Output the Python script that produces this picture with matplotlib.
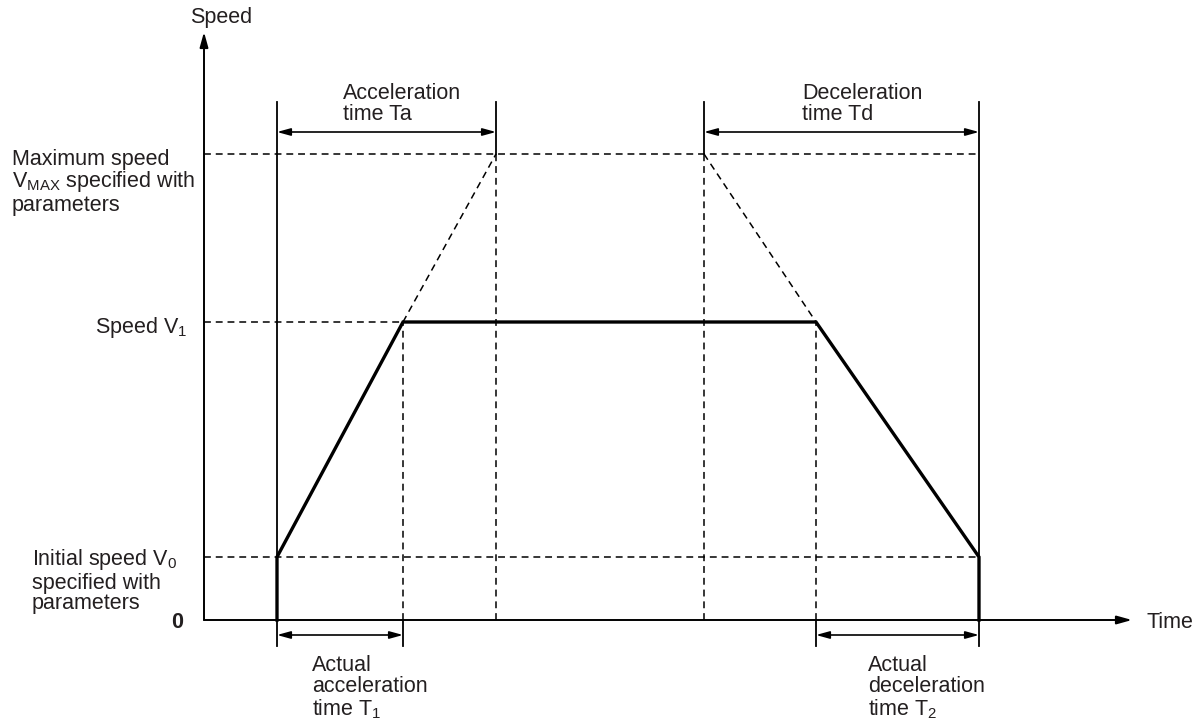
import matplotlib.pyplot as plt

plt.rcParams['font.family'] = ['Liberation Sans', 'DejaVu Sans']
plt.rcParams['mathtext.fontset'] = 'custom'
plt.rcParams['mathtext.rm'] = 'Liberation Sans'

# time points (arbitrary units) and speed levels
t_start = 7.3      # start of motion
t_v1_acc = 19.9    # speed V1 reached
t_ta_end = 29.2    # end of acceleration time Ta
t_td_start = 50.0  # start of deceleration time Td
t_v1_dec = 61.2    # deceleration begins
t_stop = 77.5      # end of motion
t_axis_end = 92.8

v0 = 6.3
v1 = 29.8
vmax = 46.6
v_axis_end = 58.8
v_bracket_top = 51.8
v_arrow_top = 48.8
v_arrow_bot = -1.5
v_tick_bot = -2.6

profile_t = [t_start, t_start, t_v1_acc, t_v1_dec, t_stop, t_stop]
profile_v = [0, v0, v1, v1, v0, 0]

TXT = '#231f20'
FS = 15.5

fig = plt.figure(figsize=(12.03, 7.21), dpi=100)
ax = fig.add_axes([0, 0, 1, 1])
ax.set_xlim(-20.4, 99.9)
ax.set_ylim(-10.1, 62.0)
ax.axis('off')

# axes with arrows
arrow_kw = dict(arrowstyle='-|>,head_length=0.9,head_width=0.25', color='black', lw=1.4,
                shrinkA=0, shrinkB=0)
ax.annotate('', xy=(0, v_axis_end), xytext=(0, 0), arrowprops=arrow_kw)
ax.annotate('', xy=(t_axis_end, 0), xytext=(0, 0), arrowprops=arrow_kw)

dash = dict(color='black', lw=1.1, dashes=(4.5, 3.2))
thin = dict(color='black', lw=1.3)

# horizontal reference lines
ax.plot([0, t_stop], [vmax, vmax], **dash)
ax.plot([0, t_v1_acc], [v1, v1], **dash)
ax.plot([0, t_stop], [v0, v0], **dash)

# vertical lines
ax.plot([t_start, t_start], [v_tick_bot, v_bracket_top], **thin)
ax.plot([t_stop, t_stop], [v_tick_bot, v_bracket_top], **thin)
ax.plot([t_ta_end, t_ta_end], [vmax, v_bracket_top], **thin)
ax.plot([t_ta_end, t_ta_end], [0, vmax], **dash)
ax.plot([t_td_start, t_td_start], [vmax, v_bracket_top], **thin)
ax.plot([t_td_start, t_td_start], [0, vmax], **dash)
ax.plot([t_v1_acc, t_v1_acc], [0, v1], **dash)
ax.plot([t_v1_acc, t_v1_acc], [v_tick_bot, 0], **thin)
ax.plot([t_v1_dec, t_v1_dec], [0, v1], **dash)
ax.plot([t_v1_dec, t_v1_dec], [v_tick_bot, 0], **thin)

# dashed extension to max speed
ax.plot([t_v1_acc, t_ta_end], [v1, vmax], **dash)
ax.plot([t_td_start, t_v1_dec], [vmax, v1], **dash)

# speed profile
ax.plot(profile_t, profile_v, color='black', lw=2.4, solid_joinstyle='miter')

# dimension arrows
dim_kw = dict(arrowstyle='<|-|>,head_length=0.8,head_width=0.22', color='black', lw=1.2,
              shrinkA=0, shrinkB=0)
ax.annotate('', xy=(t_start, v_arrow_top), xytext=(t_ta_end, v_arrow_top), arrowprops=dim_kw)
ax.annotate('', xy=(t_td_start, v_arrow_top), xytext=(t_stop, v_arrow_top), arrowprops=dim_kw)
ax.annotate('', xy=(t_start, v_arrow_bot), xytext=(t_v1_acc, v_arrow_bot), arrowprops=dim_kw)
ax.annotate('', xy=(t_v1_dec, v_arrow_bot), xytext=(t_stop, v_arrow_bot), arrowprops=dim_kw)

tk = dict(color=TXT, fontsize=FS, linespacing=1.0)
ax.text(1.7, 60.2, 'Speed', ha='center', va='center', **tk)
ax.text(94.3, -0.2, 'Time', ha='left', va='center', **tk)
ax.text(-2.7, -0.3, '0', ha='center', va='center', fontweight='bold', **tk)
ax.text(13.9, 51.6, 'Acceleration\ntime Ta', ha='left', va='center', **tk)
ax.text(59.8, 51.6, 'Deceleration\ntime Td', ha='left', va='center', **tk)
ax.text(-19.2, 43.8, 'Maximum speed\nV$_{\\mathrm{MAX}}$ specified with\nparameters',
        ha='left', va='center', **tk)
ax.text(-1.7, v1 - 0.6, 'Speed V$_1$', ha='right', va='center', **tk)
ax.text(-17.2, 3.9, 'Initial speed V$_0$\nspecified with\nparameters',
        ha='left', va='center', **tk)
ax.text(10.8, -6.8, 'Actual\nacceleration\ntime T$_1$', ha='left', va='center', **tk)
ax.text(66.4, -6.8, 'Actual\ndeceleration\ntime T$_2$', ha='left', va='center', **tk)

fig.savefig('out.png', dpi=100)
